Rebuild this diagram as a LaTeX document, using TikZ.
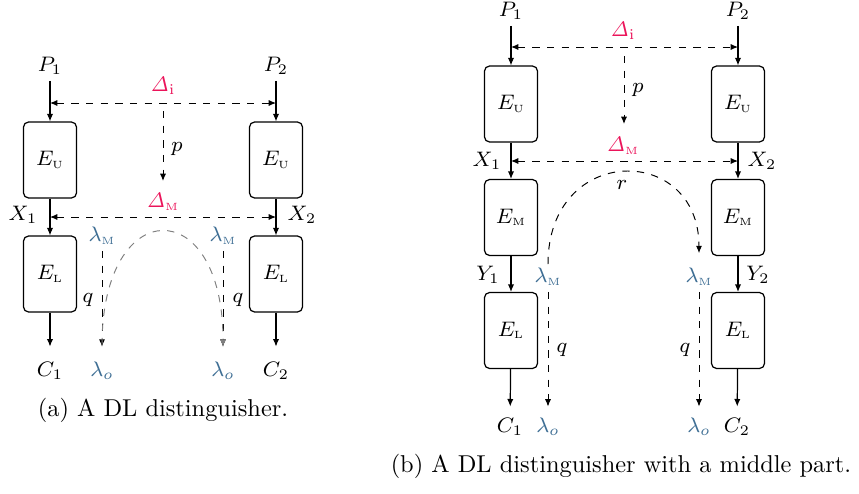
\RequirePackage{fix-cm}
\documentclass[tikz,border=0pt]{standalone}
\usetikzlibrary{arrows.meta}
\definecolor{dcol}{RGB}{235,20,90}
\definecolor{lcol}{RGB}{62,110,148}
\newcommand{\sbs}[1]{{\scriptscriptstyle\mathrm{#1}}}
\begin{document}
\begin{tikzpicture}[x=0.41pt,y=-0.41pt,
  txt/.style={inner sep=1.5pt,text height=6pt,text depth=2pt,font=\fontsize{8.6}{10}\selectfont},
  dlab/.style={txt,text=dcol},
  llab/.style={txt,text=lcol},
  ebox/.style={draw,rounded corners=2pt,minimum width=21.7pt,minimum height=31.1pt,inner sep=0pt,line width=0.5pt,font=\fontsize{8.6}{10}\selectfont},
  arr/.style={-{Latex[length=3.1pt,width=2.6pt]},line width=0.5pt},
  darr/.style={-{Latex[length=3pt,width=2.5pt]},line width=0.4pt,dashed},
  ddarr/.style={{Latex[length=3pt,width=2.5pt]}-{Latex[length=3pt,width=2.5pt]},dashed,line width=0.4pt},
  captext/.style={inner sep=0pt,font=\fontsize{10}{12}\selectfont}
]
\useasboundingbox (0,0) rectangle (859,493);

% ---------------- (a) ----------------
\node[txt] (P1a) at (50,67) {$P_1$};
\node[txt] (P2a) at (276,67) {$P_2$};
\node[ebox] (EUa1) at (50,160) {$E_\sbs{U}$};
\node[ebox] (EUa2) at (276,160) {$E_\sbs{U}$};
\node[ebox] (ELa1) at (50,274) {$E_\sbs{L}$};
\node[ebox] (ELa2) at (276,274) {$E_\sbs{L}$};
\node[txt] (C1a) at (50,372) {$C_1$};
\node[txt] (C2a) at (276,372) {$C_2$};
\node[txt] (X1a) at (23,216) {$X_1$};
\node[txt] (X2a) at (302,216) {$X_2$};
\node[dlab] (Dia) at (163,87) {$\mathit{\Delta}_{\mathrm{i}}$};
\node[dlab] (DMa) at (163,203) {$\mathit{\Delta}_\sbs{M}$};
\node[txt] (pa) at (177,147) {$p$};
\node[llab] (lamMa1) at (102,237) {$\lambda_\sbs{M}$};
\node[llab] (lamMa2) at (223,237) {$\lambda_\sbs{M}$};
\node[llab] (lamoa1) at (102,372) {$\lambda_o$};
\node[llab] (lamoa2) at (223,372) {$\lambda_o$};
\node[txt] (qa1) at (88,298) {$q$};
\node[txt] (qa2) at (238,298) {$q$};
\coordinate (dia1) at (50,103);
\coordinate (dia2) at (276,103);
\coordinate (dma1) at (50,217);
\coordinate (dma2) at (276,217);
\coordinate (pa0) at (163,111);
\coordinate (pa1) at (163,181);

\draw[arr] (P1a) -- (EUa1);
\draw[arr] (P2a) -- (EUa2);
\draw[arr] (EUa1) -- (ELa1);
\draw[arr] (EUa2) -- (ELa2);
\draw[arr,shorten >=4.7pt] (ELa1) -- (C1a);
\draw[arr,shorten >=4.7pt] (ELa2) -- (C2a);
\draw[ddarr] (dia1) -- (dia2);
\draw[ddarr] (dma1) -- (dma2);
\draw[darr] (pa0) -- (pa1);
\draw[darr,shorten >=4.7pt] (lamMa1) -- (lamoa1);
\draw[darr,shorten >=4.7pt] (lamMa2) -- (lamoa2);
\draw[darr,gray,shorten <=5.3pt,shorten >=4.7pt] (lamoa1.north) .. controls +(0,-165) and +(0,-165) .. (lamoa2.north);
\node[captext] (capa) at (163,410) {(a) A DL distinguisher.};

% ---------------- (b) ----------------
\node[txt] (P1b) at (511,12) {$P_1$};
\node[txt] (P2b) at (738,12) {$P_2$};
\node[ebox] (EUb1) at (511,104) {$E_\sbs{U}$};
\node[ebox] (EUb2) at (738,104) {$E_\sbs{U}$};
\node[ebox] (EMb1) at (511,217.5) {$E_\sbs{M}$};
\node[ebox] (EMb2) at (738,217.5) {$E_\sbs{M}$};
\node[ebox] (ELb1) at (511,330.5) {$E_\sbs{L}$};
\node[ebox] (ELb2) at (738,330.5) {$E_\sbs{L}$};
\node[txt] (C1b) at (510,428) {$C_1$};
\node[txt] (C2b) at (737,428) {$C_2$};
\node[txt] (X1b) at (487,162) {$X_1$};
\node[txt] (X2b) at (762,162) {$X_2$};
\node[txt] (Y1b) at (488,276) {$Y_1$};
\node[txt] (Y2b) at (758,276) {$Y_2$};
\node[dlab] (Dib) at (623,32) {$\mathit{\Delta}_{\mathrm{i}}$};
\node[dlab] (DMb) at (623,147) {$\mathit{\Delta}_\sbs{M}$};
\node[txt] (pb) at (638,88) {$p$};
\node[txt] (rb) at (622,185) {$r$};
\node[llab] (lamMb1) at (548,278) {$\lambda_\sbs{M}$};
\node[llab] (lamMb2) at (699,278) {$\lambda_\sbs{M}$};
\node[llab] (lamob1) at (548,428) {$\lambda_o$};
\node[llab] (lamob2) at (699,428) {$\lambda_o$};
\node[txt] (qb1) at (562,348) {$q$};
\node[txt] (qb2) at (685,348) {$q$};
\coordinate (dib1) at (511,47);
\coordinate (dib2) at (738,47);
\coordinate (dmb1) at (511,161);
\coordinate (dmb2) at (738,161);
\coordinate (pb0) at (624,56);
\coordinate (pb1) at (624,124);

\draw[arr] (P1b) -- (EUb1);
\draw[arr] (P2b) -- (EUb2);
\draw[arr] (EUb1) -- (EMb1);
\draw[arr] (EUb2) -- (EMb2);
\draw[arr] (EMb1) -- (ELb1);
\draw[arr] (EMb2) -- (ELb2);
\draw[arr,shorten >=3.1pt] (ELb1) -- (C1b);
\draw[arr,shorten >=3.1pt] (ELb2) -- (C2b);
\draw[ddarr] (dib1) -- (dib2);
\draw[ddarr] (dmb1) -- (dmb2);
\draw[darr] (pb0) -- (pb1);
\draw[darr,shorten >=3.1pt] (lamMb1) -- (lamob1);
\draw[darr,shorten >=3.1pt] (lamMb2) -- (lamob2);
\draw[darr,shorten >=4.5pt] (lamMb1.north) .. controls +(0,-121) and +(0,-121) .. (lamMb2.north);
\node[captext] (capb) at (621,466) {(b) A DL distinguisher with a middle part.};
\end{tikzpicture}
\end{document}
